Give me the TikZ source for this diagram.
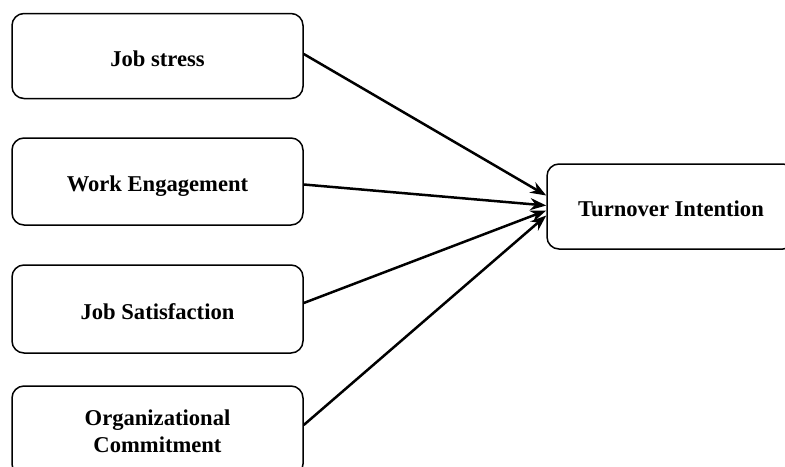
\documentclass[tikz,border=0pt]{standalone}
\usepackage{fontspec}
\setmainfont{Liberation Serif}
\usetikzlibrary{arrows.meta}
\tikzset{
  factor/.style = {draw, rounded corners = 6pt, line width = 0.75pt,
    minimum width = 145.5pt, align = center,
    font = \fontsize{11.3}{13.5}\selectfont\bfseries},
  oneline/.style = {text height = 12.5pt, text depth = 2.5pt},
  link/.style = {-{Stealth[length = 8pt, width = 6pt]}, line width = 1.25pt}
}
\begin{document}
\begin{tikzpicture}[x = 0.5pt, y = -0.5pt]

      \useasboundingbox (0, 0) rectangle (785, 466);
      \clip (0, 0) rectangle (785, 466);
      \node[factor, oneline, minimum height = 42.5pt] (stress) at (157.5, 56) {Job stress};
      \node[factor, oneline, minimum height = 43.5pt] (engage) at (157.5, 181.5) {Work Engagement};
      \node[factor, oneline, minimum height = 44pt] (satisf) at (157.5, 309) {Job Satisfaction};
      \node[factor, minimum height = 45pt] (commit) at (157.5, 431) {Organizational\\Commitment};
      \node[factor, oneline, minimum width = 124pt, minimum height = 42.5pt] (turnover) at (671, 206.5) {Turnover Intention};
      \draw[link] ([yshift = 1pt]stress.east) -- ([yshift = 5.5pt]turnover.west);
      \draw[link] ([yshift = -1.5pt]engage.east) -- ([yshift = 0.5pt]turnover.west);
      \draw[link] ([yshift = 3pt]satisf.east) -- ([yshift = -2pt]turnover.west);
      \draw[link] ([yshift = 3pt]commit.east) -- ([yshift = -4.5pt]turnover.west);

    \end{tikzpicture}
\end{document}
